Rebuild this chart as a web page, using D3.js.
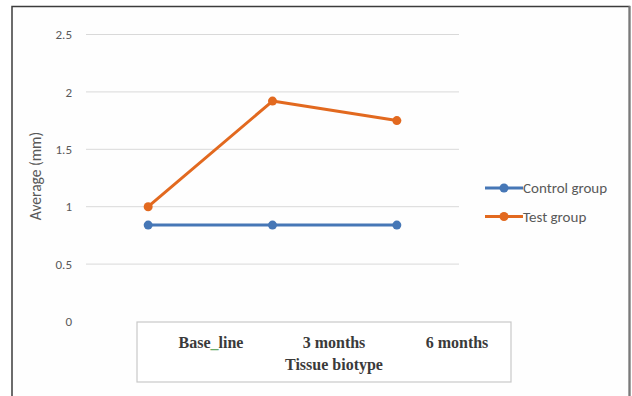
<!DOCTYPE html>
<html>
<head>
<meta charset="utf-8">
<script src="https://cdn.jsdelivr.net/npm/d3@7"></script>
<style>
  html, body { margin: 0; padding: 0; background: #fff; }
  svg { display: block; }
</style>
</head>
<body>
<svg id="chart" width="632" height="396"></svg>
<script>
// Tissue biotype average thickness over time
const categories = ["Base line", "3 months", "6 months"];
const controlValues = [0.84, 0.84, 0.84];
const testValues = [1.0, 1.92, 1.75];
const yTicks = [0, 0.5, 1, 1.5, 2, 2.5];
const seriesNames = ["Control group", "Test group"];
const seriesColors = ["#4677b6", "#e2691f"];
const yTitle = "Average (mm)";
const xTitle = "Tissue biotype";

const sans = "Carlito, 'Liberation Sans', 'DejaVu Sans', sans-serif";
const svg = d3.select("#chart");

// outer frame
svg.append("rect")
  .attr("x", 12).attr("y", 6.5)
  .attr("width", 617.5).attr("height", 400)
  .attr("fill", "#fefefe")
  .attr("stroke", "#3c3c3c").attr("stroke-width", 1.5);
svg.append("line")
  .attr("x1", 629.5).attr("x2", 629.5).attr("y1", 6).attr("y2", 396)
  .attr("stroke", "#7a7a7a").attr("stroke-width", 2);

const plotLeft = 86, plotRight = 459;
const x = d3.scaleBand().domain(categories).range([plotLeft, plotRight]).padding(0);
const y = d3.scaleLinear().domain([0, 2.5]).range([321.5, 34.5]);

// horizontal gridlines (zero line sits under the category box)
const grid = svg.append("g");
grid.selectAll("line").data(yTicks.filter(d => d > 0)).join("line")
  .attr("x1", plotLeft).attr("x2", plotRight)
  .attr("y1", d => y(d)).attr("y2", d => y(d))
  .attr("stroke", "#d9d9d9").attr("stroke-width", 1);

// y axis labels
const yAxis = d3.axisLeft(y).tickValues(yTicks).tickSize(0).tickPadding(14)
  .tickFormat(d => String(d));
const yg = svg.append("g").attr("transform", `translate(${plotLeft},0)`).call(yAxis);
yg.select(".domain").remove();
yg.selectAll("text")
  .attr("fill", "#595959")
  .style("font-family", sans)
  .style("font-size", "13px");

// y axis title
svg.append("text")
  .attr("transform", "translate(41,176) rotate(-90)")
  .attr("text-anchor", "middle")
  .attr("fill", "#595959")
  .style("font-family", sans)
  .style("font-size", "15.5px")
  .text(yTitle);

// category label box
svg.append("rect")
  .attr("x", 137).attr("y", 322)
  .attr("width", 374).attr("height", 60)
  .attr("fill", "#fff")
  .attr("stroke", "#c9c9c9").attr("stroke-width", 1.2);

const catX = d3.scalePoint().domain(categories).range([211, 457]);
const catLabels = svg.append("g")
  .style("font-family", "'Liberation Serif', 'DejaVu Serif', serif")
  .style("font-size", "16px")
  .style("font-weight", "bold")
  .attr("fill", "#3a3a3a");
catLabels.selectAll("text").data(categories).join("text")
  .attr("x", d => catX(d)).attr("y", 348)
  .attr("text-anchor", "middle")
  .each(function(d) {
    const t = d3.select(this);
    const parts = d.split(" ");
    if (d === categories[0]) {
      t.append("tspan").text(parts[0]);
      t.append("tspan").attr("fill", "#6aaa6a").text("_");
      t.append("tspan").text(parts[1]);
    } else {
      t.text(d);
    }
  });
catLabels.append("text")
  .attr("x", catX(categories[1])).attr("y", 370)
  .attr("text-anchor", "middle")
  .text(xTitle);

// series lines and markers
const series = [controlValues, testValues];
const line = d3.line()
  .x((d, i) => x(categories[i]) + x.bandwidth() / 2)
  .y(d => y(d));

series.forEach((vals, s) => {
  const g = svg.append("g");
  g.append("path").datum(vals)
    .attr("d", line)
    .attr("fill", "none")
    .attr("stroke", seriesColors[s])
    .attr("stroke-width", 3)
    .attr("stroke-linejoin", "round");
  g.selectAll("circle").data(vals).join("circle")
    .attr("cx", (d, i) => x(categories[i]) + x.bandwidth() / 2)
    .attr("cy", d => y(d))
    .attr("r", 4.5)
    .attr("fill", seriesColors[s]);
});

// legend
const legend = svg.append("g");
seriesNames.forEach((name, i) => {
  const ly = 188 + i * 28.5;
  legend.append("line")
    .attr("x1", 485).attr("x2", 523).attr("y1", ly).attr("y2", ly)
    .attr("stroke", seriesColors[i]).attr("stroke-width", 3);
  legend.append("circle")
    .attr("cx", 504).attr("cy", ly).attr("r", 4.5)
    .attr("fill", seriesColors[i]);
  legend.append("text")
    .attr("x", 523).attr("y", ly + 5)
    .attr("fill", "#595959")
    .style("font-family", sans)
    .style("font-size", "15px")
    .text(name);
});
</script>
</body>
</html>
